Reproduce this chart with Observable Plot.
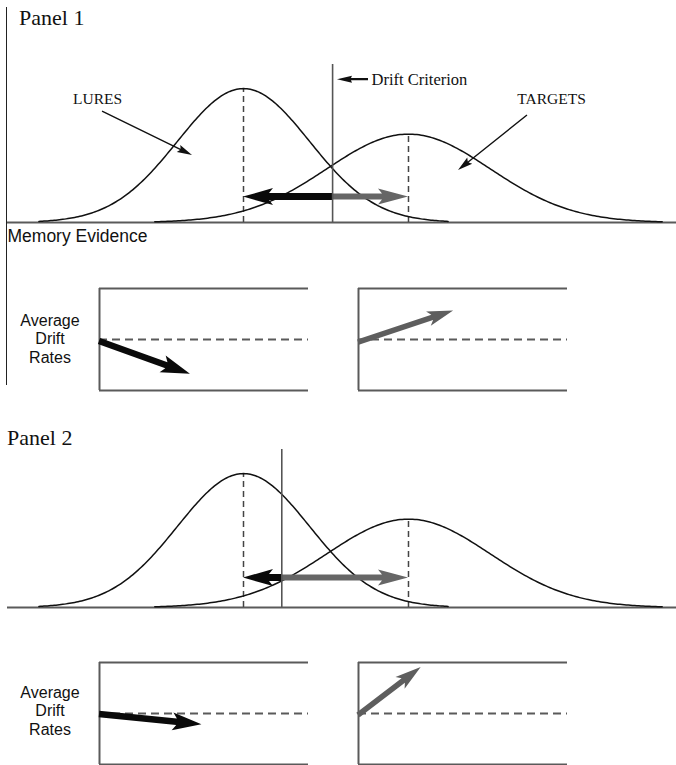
<!DOCTYPE html>
<html><head><meta charset="utf-8">
<script src="https://cdn.jsdelivr.net/npm/d3@7"></script>
<script src="https://cdn.jsdelivr.net/npm/@observablehq/plot@0.6"></script>
<style>
body{margin:0;background:#fff}
#root{position:relative;width:676px;height:765px;overflow:hidden;background:#fff}
.abs{position:absolute;white-space:nowrap}
.serif{font-family:"Liberation Serif","Times New Roman",serif;color:#111}
.sans{font-family:"Liberation Sans",Arial,sans-serif;color:#111}
</style></head><body><div id="root"></div>
<script>
// ---------------- data ----------------
const distNames = ["LURES", "TARGETS"];
const distMeans = [0, 2.5];          // memory evidence units
const distSDs = [1, 1.24];
const distPeaks = [1, 0.66];         // relative heights of the two curves
const panelTitles = ["Panel 1", "Panel 2"];
const driftCriteria = [1.35, 0.58];  // criterion location per panel
const driftKinds = ["lure", "target"];
const driftTime = [[0.435, 0.455], [0.49, 0.30]];   // arrow extent (time), per panel [lure, target]
const driftRate = [[-0.68, 0.56], [-0.22, 0.90]];   // arrow end (evidence), per panel [lure, target]
const driftStart = [[-0.04, -0.06], [-0.02, -0.04]];
const axisTitle = "Memory Evidence";
const driftTitle = ["Average", "Drift", "Rates"];
const criterionLabel = "Drift Criterion";

// ---------------- layout / style ----------------
const BLACK = "#0a0a0a", GRAY = "#5e5e5e", LINE = "#5a5a5a";
const root = document.getElementById("root");

function place(node, left, top) {
  node.style.position = "absolute";
  node.style.left = left + "px";
  node.style.top = top + "px";
  root.appendChild(node);
}
function label(text, cls, left, top, css) {
  const d = document.createElement("div");
  d.className = "abs " + cls;
  d.innerHTML = text;
  Object.assign(d.style, css || {});
  place(d, left, top);
  return d;
}

// filled barbed arrow (shaft + head) drawn from scaled link channels
function fatArrow(data, {color, shaft, headLen, headWid, barb = 0}) {
  return Plot.link(data, {
    x1: "x1", y1: "y1", x2: "x2", y2: "y2", stroke: color,
    render(index, scales, values) {
      const g = d3.create("svg:g");
      for (const i of index) {
        const ax = values.x1[i], ay = values.y1[i], bx = values.x2[i], by = values.y2[i];
        const dx = bx - ax, dy = by - ay, L = Math.hypot(dx, dy);
        const ux = dx / L, uy = dy / L, nx = -uy, ny = ux;
        const cx = bx - ux * headLen, cy = by - uy * headLen;
        const ex = cx - ux * barb, ey = cy - uy * barb;
        const hs = shaft / 2, hw = headWid / 2;
        const pts = [
          [ax + nx * hs, ay + ny * hs], [cx + nx * hs, cy + ny * hs], [ex + nx * hw, ey + ny * hw],
          [bx, by],
          [ex - nx * hw, ey - ny * hw], [cx - nx * hs, cy - ny * hs], [ax - nx * hs, ay - ny * hs]
        ].map(p => p[0].toFixed(2) + "," + p[1].toFixed(2));
        g.append("path").attr("d", "M" + pts.join("L") + "Z").attr("fill", color);
      }
      return g.node();
    }
  });
}

function curve(i) {
  const m = distMeans[i], s = distSDs[i], a = distPeaks[i];
  return d3.range(0, 241).map(k => {
    const u = m + s * (-3.1 + 6.2 * k / 240);
    return {name: distNames[i], x: u, y: a * Math.exp(-0.5 * ((u - m) / s) ** 2)};
  });
}
const curves = [...curve(0), ...curve(1)];

const CRIT_TOP = 1.18, BIARROW_Y = [0.19, 0.22];

function distPlot(p) {
  const c = driftCriteria[p];
  const marks = [
    Plot.ruleY([0], {stroke: LINE, strokeWidth: 2}),
    Plot.ruleX(distMeans, {x: d => d, y1: 0, y2: (d, i) => distPeaks[i], stroke: "#444", strokeWidth: 1.5, strokeDasharray: "6,4"}),
    Plot.line(curves, {x: "x", y: "y", z: "name", stroke: "#111", strokeWidth: 1.5}),
    fatArrow([{x1: c, y1: BIARROW_Y[p], x2: distMeans[1], y2: BIARROW_Y[p]}], {color: "#666", shaft: 6, headLen: 26, headWid: 16, barb: 4}),
    fatArrow([{x1: c, y1: BIARROW_Y[p], x2: distMeans[0], y2: BIARROW_Y[p]}], {color: BLACK, shaft: 7, headLen: 26, headWid: 17, barb: 4}),
    Plot.ruleX([c], {y1: 0, y2: CRIT_TOP, stroke: "#555", strokeWidth: 1.6})
  ];
  if (p === 0) {
    const ann = [
      {text: distNames[0], x: -2.21, y: 0.92},
      {text: distNames[1], x: 4.667, y: 0.925}
    ];
    marks.push(
      Plot.text(ann, {x: "x", y: "y", text: "text", fontFamily: "Liberation Serif", fontSize: 15.5, fill: "#111", lineAnchor: "middle"}),
      Plot.text([{text: criterionLabel, x: 1.94, y: 1.067}], {x: "x", y: "y", text: "text", fontFamily: "Liberation Serif", fontSize: 16.5, fill: "#111", textAnchor: "start", lineAnchor: "middle"}),
      fatArrow([{x1: -2.136, y1: 0.828, x2: -0.773, y2: 0.5}, {x1: 4.303, y1: 0.799, x2: 3.258, y2: 0.388}], {color: "#111", shaft: 1.4, headLen: 13, headWid: 8, barb: 2}),
      fatArrow([{x1: 1.894, y1: 1.067, x2: 1.424, y2: 1.067}], {color: "#111", shaft: 2.2, headLen: 14, headWid: 7, barb: 1})
    );
  }
  return Plot.plot({
    width: 676, height: 230, marginLeft: 7, marginRight: 0, marginTop: 64, marginBottom: 8,
    x: {domain: [-3.576, 6.561], axis: null},
    y: {domain: [0, CRIT_TOP], axis: null},
    marks
  });
}

function boxPlot(p, k) {
  const color = k === 0 ? BLACK : GRAY;
  return Plot.plot({
    width: 215, height: 120, marginLeft: 2, marginRight: 4, marginTop: 8, marginBottom: 10,
    x: {domain: [0, 1], axis: null},
    y: {domain: [-1, 1], axis: null},
    marks: [
      Plot.ruleY([-1, 1], {stroke: LINE, strokeWidth: 2}),
      Plot.ruleY([0], {stroke: "#5a5a5a", strokeWidth: 2, strokeDasharray: "8,5"}),
      Plot.ruleX([0], {stroke: LINE, strokeWidth: 2}),
      fatArrow([{x1: 0, y1: driftStart[p][k], x2: driftTime[p][k], y2: driftRate[p][k]}],
        {color, shaft: k === 0 ? 6.5 : 5.5, headLen: k === 0 ? 25 : 22, headWid: k === 0 ? 18 : 15, barb: 4})
    ]
  });
}

// ---------------- assemble ----------------
const distTops = [0, 385], boxTops = [280, 654], titleTops = [6.6, 426.6], titleLefts = [19, 7], adrTops = [311.5, 683.5];
for (let p = 0; p < 2; p++) {
  place(distPlot(p), 0, distTops[p]);
  place(boxPlot(p, 0), 97, boxTops[p]);
  place(boxPlot(p, 1), 356, boxTops[p]);
  label(panelTitles[p], "serif", titleLefts[p], titleTops[p], {fontSize: "22px", lineHeight: "22px"});
  const block = document.createElement("div");
  Object.assign(block.style, {width: "100px"});
  driftTitle.forEach((t, j) => {
    const line = document.createElement("div");
    line.className = "sans";
    line.textContent = t;
    Object.assign(line.style, {fontSize: "16px", lineHeight: "18.5px", height: "18.5px", textAlign: "center", whiteSpace: "nowrap"});
    block.appendChild(line);
  });
  place(block, 0, adrTops[p]);
}
label(axisTitle, "sans", 7.5, 228, {fontSize: "17.5px", lineHeight: "17.5px"});
const vline = document.createElement("div");
Object.assign(vline.style, {width: "0px", height: "378px", borderLeft: "1.5px solid #222"});
place(vline, 6, 7);
</script></body></html>
